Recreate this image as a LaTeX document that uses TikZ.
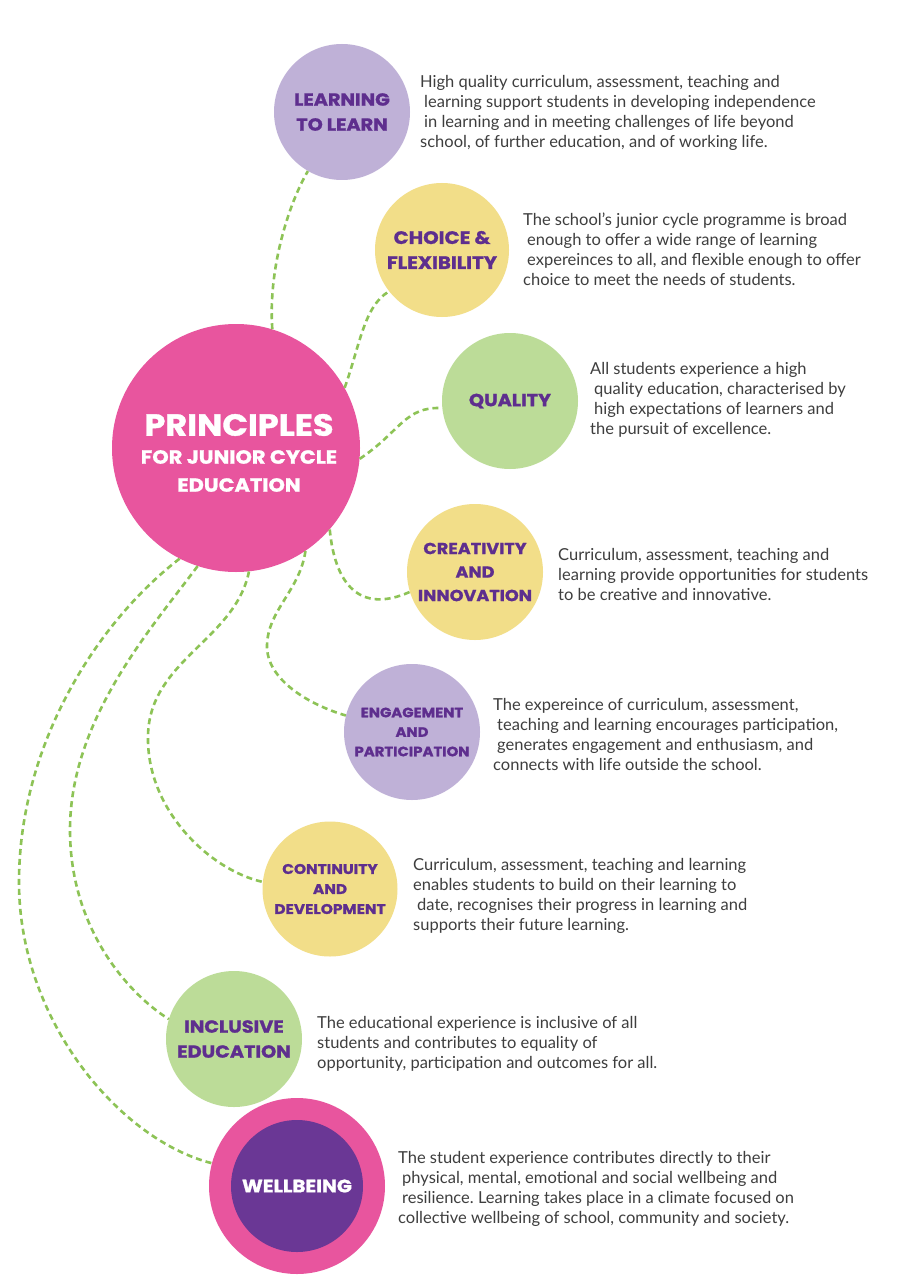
\documentclass[tikz,border=0pt]{standalone}
\usepackage{fontspec}
\setmainfont{Lato}
\newfontfamily\dispfont{Poppins}[FakeStretch=1.1,BoldFeatures={FakeBold=1.2}]
\frenchspacing
\definecolor{pinkc}{HTML}{E8559E}
\definecolor{lilac}{HTML}{BFB1D7}
\definecolor{yell}{HTML}{F2DE89}
\definecolor{greenc}{HTML}{BCDC98}
\definecolor{dpurple}{HTML}{6A3795}
\definecolor{lbl}{HTML}{5E2E8E}
\definecolor{dash}{HTML}{8DC356}
\definecolor{txt}{HTML}{3E3E3E}
\begin{document}
\begin{tikzpicture}[x=1pt,y=-1pt,
  bubble/.style={circle,inner sep=0pt,minimum size=#1,text=lbl,align=center,font=\dispfont\bfseries},
  conn/.style={draw=dash,line width=2.6pt,dash pattern=on 6pt off 4pt},
  desc/.style={anchor=north west,inner sep=0pt,align=left,text=txt,font=\fontsize{16.5}{20}\selectfont}]
\useasboundingbox[fill=white] (0,0) rectangle (900,1276);

% circles
\node[bubble=248pt,fill=pinkc,text=white] (main) at (236,448) {};
\node[text=white,font=\dispfont\bfseries\fontsize{30.5}{30}\selectfont] (t1) at (239,425) {PRINCIPLES};
\node[text=white,font=\dispfont\bfseries\fontsize{19}{28}\selectfont,align=center] (t2) at (239,471) {FOR JUNIOR CYCLE\\EDUCATION};

\node[bubble=136pt,fill=lilac,font=\dispfont\bfseries\fontsize{17.5}{25}\selectfont] (ltl) at (342,112) {LEARNING\\TO LEARN};
\node[bubble=134pt,fill=yell,font=\dispfont\bfseries\fontsize{18}{25}\selectfont] (cf) at (442,250) {CHOICE \&\\FLEXIBILITY};
\node[bubble=136pt,fill=greenc,font=\dispfont\bfseries\fontsize{17.5}{25}\selectfont] (q) at (510,401) {QUALITY};
\node[bubble=136pt,fill=yell,font=\dispfont\bfseries\fontsize{16}{23.5}\selectfont] (cr) at (475,572) {CREATIVITY\\AND\\INNOVATION};
\node[bubble=136pt,fill=lilac,font=\dispfont\bfseries\fontsize{13.5}{19.5}\selectfont] (eng) at (412,732) {ENGAGEMENT\\AND\\PARTICIPATION};
\node[bubble=135pt,fill=yell,font=\dispfont\bfseries\fontsize{14}{20}\selectfont] (cd) at (330,889) {CONTINUITY\\AND\\DEVELOPMENT};
\node[bubble=136pt,fill=greenc,font=\dispfont\bfseries\fontsize{17.5}{25}\selectfont] (inc) at (234,1039) {INCLUSIVE\\EDUCATION};
\node[bubble=176pt,fill=pinkc] (wb) at (297,1186) {};
\node[bubble=132pt,fill=dpurple,text=white,font=\dispfont\bfseries\fontsize{18}{20}\selectfont] (wbi) at (297,1186) {WELLBEING};

% connectors
\draw[conn] (main.73) .. controls (268,270) and (288,205) .. (ltl.240);
\draw[conn] (main.29) .. controls (360,345) and (364,306) .. (cf.218);
\draw[conn] (main.-5) .. controls (400,432) and (405,406) .. (q.186);
\draw[conn] (main.-41) .. controls (335,585) and (360,614) .. (cr.197);
\draw[conn] (main.-56) .. controls (300,590) and (268,610) .. (267,645) .. controls (266,680) and (310,705) .. (eng.166);
\draw[conn] (main.-84) .. controls (235,640) and (150,660) .. (148,735) .. controls (146,810) and (210,870) .. (cd.174);
\draw[conn] (main.-108) .. controls (150,630) and (70,720) .. (70,830) .. controls (70,930) and (130,995) .. (inc.163);
\draw[conn] (main.-117) .. controls (100,620) and (20,740) .. (19,880) .. controls (18,1020) and (120,1140) .. (wb.165);

% descriptions
\node[desc] (d1) at (420,75) {High quality curriculum, assessment, teaching and\\\hspace*{4pt}learning support students in developing independence\\\hspace*{4pt}in learning and in meeting challenges of life beyond\\school, of further education, and of working life.};
\node[desc] (d2) at (523,213) {The school’s junior cycle programme is broad\\\hspace*{4pt}enough to offer a wide range of learning\\\hspace*{4pt}expereinces to all, and flexible enough to offer\\choice to meet the needs of students.};
\node[desc] (d3) at (590,362) {All students experience a high\\\hspace*{4pt}quality education, characterised by\\\hspace*{4pt}high expectations of learners and\\the pursuit of excellence.};
\node[desc] (d4) at (558,548) {Curriculum, assessment, teaching and\\learning provide opportunities for students\\to be creative and innovative.};
\node[desc] (d5) at (493,698) {The expereince of curriculum, assessment,\\\hspace*{4pt}teaching and learning encourages participation,\\\hspace*{4pt}generates engagement and enthusiasm, and\\connects with life outside the school.};
\node[desc] (d6) at (413,858) {Curriculum, assessment, teaching and learning\\enables students to build on their learning to\\\hspace*{4pt}date, recognises their progress in learning and\\supports their future learning.};
\node[desc] (d7) at (317,1016) {The educational experience is inclusive of all\\students and contributes to equality of\\opportunity, participation and outcomes for all.};
\node[desc] (d8) at (398,1151) {The student experience contributes directly to their\\\hspace*{4pt}physical, mental, emotional and social wellbeing and\\\hspace*{4pt}resilience. Learning takes place in a climate focused on\\collective wellbeing of school, community and society.};
\end{tikzpicture}
\end{document}
